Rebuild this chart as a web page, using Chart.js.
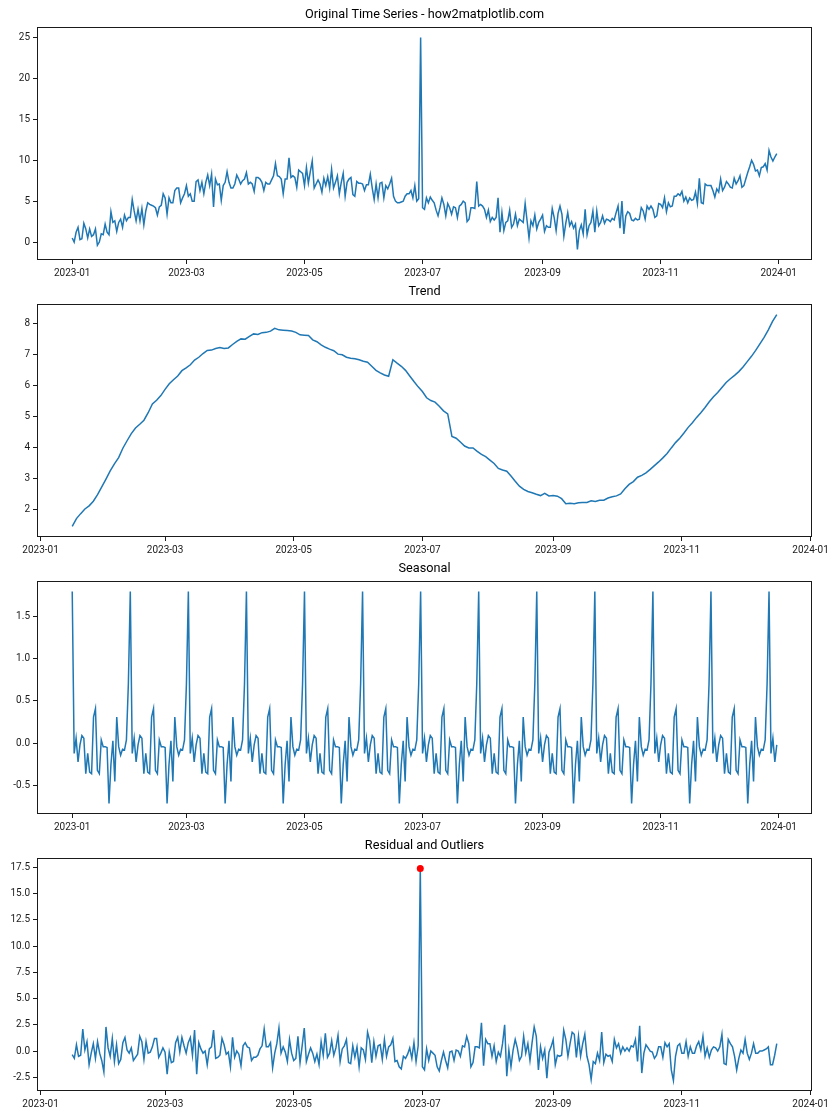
<!DOCTYPE html>
<html>

<head>
    <meta charset="utf-8">
    <script src="https://cdn.jsdelivr.net/npm/chart.js@4.4.1/dist/chart.umd.min.js"></script>
    <style>
        body {
            margin: 0;
            background: #fff;
        }

        #figure {
            width: 840px;
            height: 1120px;
        }

        canvas {
            display: block;
        }
    </style>
</head>

<body>
    <div id="figure">
        <canvas id="originalChart" width="840" height="277"></canvas>
        <canvas id="trendChart" width="840" height="277"></canvas>
        <canvas id="seasonalChart" width="840" height="277"></canvas>
        <canvas id="residualChart" width="840" height="277"></canvas>
    </div>

    <script>
        // x axis: days since 2023-01-01
        const tickDays = [0, 59, 120, 181, 243, 304, 365];
        const tickLabels = ['2023-01', '2023-03', '2023-05', '2023-07', '2023-09', '2023-11', '2024-01'];

        // daily observed values, 2023-01-01 .. 2023-12-31
        const originalValues = [
            0.5, 0.0, 1.2, 1.8, 0.3, 0.4, 2.3, 1.6, 0.5, 1.6,
            0.7, 0.9, 1.6, -0.4, 0.0, 1.0, 0.9, 2.2, 1.2, 0.9,
            3.7, 2.4, 2.6, 1.3, 2.4, 2.8, 1.8, 3.3, 2.6, 3.0,
            3.0, 5.2, 3.8, 2.6, 4.0, 2.6, 4.1, 2.1, 3.8, 4.8,
            4.6, 4.5, 4.4, 4.2, 3.3, 4.3, 4.5, 5.9, 5.4, 3.4,
            5.4, 4.8, 4.8, 6.3, 6.6, 6.6, 4.8, 5.4, 5.9, 6.9,
            5.6, 5.9, 5.0, 5.0, 7.4, 7.6, 6.3, 7.3, 5.9, 7.3,
            8.2, 6.9, 8.3, 4.3, 7.7, 7.0, 7.1, 5.1, 6.9, 7.3,
            8.6, 7.3, 6.6, 6.6, 7.1, 8.2, 7.7, 7.1, 7.5,
            7.7, 8.5, 7.1, 7.3, 7.1, 6.2, 7.9, 7.9, 7.7, 7.3,
            6.3, 7.3, 7.1, 7.1, 7.6, 8.1, 9.6, 8.1, 8.0, 7.7,
            5.9, 7.7, 7.7, 10.3, 7.9, 8.1, 7.9, 6.7, 8.8, 8.6,
            8.4, 6.9, 9.1, 7.2, 8.6, 9.9, 6.6, 7.1, 7.6, 7.1,
            6.1, 7.8, 6.9, 8.0, 6.6, 8.9, 6.6, 7.3, 8.1, 5.9,
            7.3, 8.4, 5.6, 7.3, 7.7, 7.9, 5.8, 5.6, 7.4, 7.2,
            7.2, 7.1, 6.3, 7.0, 7.0, 8.3, 6.6, 5.2, 7.1, 5.4,
            7.2, 7.3, 5.4, 6.9, 6.5, 7.1, 7.8, 5.6, 5.0, 4.8,
            4.8, 4.9, 5.0, 5.6, 5.9, 5.9, 6.3, 5.4, 6.9, 5.0,
            5.3, 25.0, 4.2, 4.0,
            5.4, 4.8, 5.5, 5.1, 4.8, 3.9, 3.2, 4.2, 5.4, 4.6,
            3.2, 4.7, 4.2, 3.4, 4.3, 4.2, 3.0, 4.4, 4.6, 5.0,
            4.8, 2.5, 2.8, 4.2, 4.2, 4.1, 7.4, 4.4, 4.6, 4.4,
            4.0, 3.0, 3.9, 2.5, 3.0, 2.7, 3.0, 5.4, 1.2, 3.6,
            1.4, 2.4, 2.6, 3.9, 1.8, 2.2, 3.4, 2.0, 2.8, 2.6,
            2.4, 4.7, 2.6, 0.5, 2.6, 2.0, 3.3, 1.6, 2.4, 2.8,
            3.3, 1.3, 2.0, 1.8, 1.8, 4.1, 3.0, 1.4, 3.5, 4.4,
            3.4, 0.7, 2.3, 3.6, 2.0, 2.5, 1.7, 2.2, -0.9, 1.4,
            2.1, 1.0, 4.0, 0.9, 2.0, 2.4, 3.8, 1.2, 3.8, 2.0,
            2.4, 3.2, 2.3, 2.8, 2.7,
            2.5, 2.9, 2.7, 3.6, 4.4, 1.7, 5.0, 1.0, 3.2, 3.7,
            3.5, 2.7, 2.6, 2.9, 2.7, 2.8, 4.2, 3.8, 2.8, 4.4,
            4.0, 4.4, 4.0, 3.0, 3.2, 4.7, 4.6, 4.2, 5.4, 3.7,
            4.8, 4.3, 4.4, 5.6, 5.6, 5.9, 5.7, 6.2, 5.0, 5.5,
            4.8, 5.4, 5.1, 5.2, 6.1, 4.7, 7.8, 4.8, 4.7, 7.1,
            6.9, 6.9, 6.9, 6.3, 5.5, 6.5, 6.1, 7.7, 6.3, 6.7,
            7.4, 7.1, 6.7, 6.6, 7.8, 7.1, 7.5, 8.1, 6.7, 6.9,
            7.7, 8.5, 9.2, 10.0, 9.5, 8.7, 8.8, 8.1, 9.1, 9.2,
            9.6, 8.8, 11.2, 10.4, 9.9, 10.4, 10.8
        ];

        // trend, read every 2 days from 2023-01-16 to 2023-12-16
        const trendStartDay = 15;
        const trendStepDays = 2;
        const trendValues = [
            1.47, 1.72, 1.88, 2.03, 2.13, 2.28, 2.49, 2.74, 2.99, 3.25,
            3.48, 3.68, 3.98, 4.22, 4.45, 4.63, 4.75, 4.88, 5.12, 5.40,
            5.52, 5.67, 5.87, 6.05, 6.18, 6.30, 6.47, 6.56, 6.66, 6.81,
            6.90, 7.02, 7.12, 7.13, 7.18, 7.21, 7.18, 7.20, 7.31, 7.41,
            7.49, 7.48, 7.57, 7.65, 7.63, 7.69, 7.70, 7.74, 7.83, 7.78,
            7.77, 7.76, 7.74, 7.70, 7.62, 7.61, 7.60, 7.46, 7.40, 7.30,
            7.22, 7.16, 7.11, 7.00, 6.98, 6.90, 6.87, 6.85, 6.82, 6.77,
            6.74, 6.61, 6.48, 6.40, 6.33, 6.29, 6.82, 6.71, 6.61, 6.48,
            6.30, 6.12, 5.95, 5.80, 5.60, 5.51, 5.46, 5.33, 5.18, 5.08,
            4.36, 4.30, 4.18, 4.05, 3.99, 3.99, 3.88, 3.78, 3.71, 3.60,
            3.49, 3.33, 3.28, 3.24, 3.09, 2.92, 2.76, 2.66, 2.59, 2.55,
            2.50, 2.46, 2.53, 2.45, 2.46, 2.44, 2.36, 2.20, 2.21, 2.20,
            2.23, 2.24, 2.24, 2.29, 2.27, 2.31, 2.31, 2.38, 2.42, 2.45,
            2.51, 2.68, 2.82, 2.91, 3.05, 3.11, 3.19, 3.30, 3.42, 3.54,
            3.67, 3.81, 3.99, 4.16, 4.30, 4.47, 4.65, 4.80, 4.97, 5.12,
            5.29, 5.47, 5.63, 5.77, 5.93, 6.09, 6.21, 6.32, 6.44, 6.59,
            6.76, 6.93, 7.12, 7.33, 7.54, 7.78, 8.05, 8.27
        ];

        // seasonal component (30-day cycle), daily
        const seasonalValues = [
            1.79, -0.12, 0.06, -0.22, -0.02, 0.09, 0.06, -0.36, -0.12, -0.34, -0.36, 0.31, 0.41, -0.32, -0.36, 0.04, -0.04, -0.04, -0.05, -0.71, -0.25, 0.03, -0.45, 0.31, -0.04, -0.14, -0.07, -0.08, 0.04, 0.70,
            1.79, -0.12, 0.06, -0.22, -0.02, 0.09, 0.06, -0.36, -0.12, -0.34, -0.36, 0.31, 0.41, -0.32, -0.36, 0.04, -0.04, -0.04, -0.05, -0.71, -0.25, 0.03, -0.45, 0.31, -0.04, -0.14, -0.07, -0.08, 0.04, 0.70,
            1.79, -0.12, 0.06, -0.22, -0.02, 0.09, 0.06, -0.36, -0.12, -0.34, -0.36, 0.31, 0.41, -0.32, -0.36, 0.04, -0.04, -0.04, -0.05, -0.71, -0.25, 0.03, -0.45, 0.31, -0.04, -0.14, -0.07, -0.08, 0.04, 0.70,
            1.79, -0.12, 0.06, -0.22, -0.02, 0.09, 0.06, -0.36, -0.12, -0.34, -0.36, 0.31, 0.41, -0.32, -0.36, 0.04, -0.04, -0.04, -0.05, -0.71, -0.25, 0.03, -0.45, 0.31, -0.04, -0.14, -0.07, -0.08, 0.04, 0.70,
            1.79, -0.12, 0.06, -0.22, -0.02, 0.09, 0.06, -0.36, -0.12, -0.34, -0.36, 0.31, 0.41, -0.32, -0.36, 0.04, -0.04, -0.04, -0.05, -0.71, -0.25, 0.03, -0.45, 0.31, -0.04, -0.14, -0.07, -0.08, 0.04, 0.70,
            1.79, -0.12, 0.06, -0.22, -0.02, 0.09, 0.06, -0.36, -0.12, -0.34, -0.36, 0.31, 0.41, -0.32, -0.36, 0.04, -0.04, -0.04, -0.05, -0.71, -0.25, 0.03, -0.45, 0.31, -0.04, -0.14, -0.07, -0.08, 0.04, 0.70,
            1.79, -0.12, 0.06, -0.22, -0.02, 0.09, 0.06, -0.36, -0.12, -0.34, -0.36, 0.31, 0.41, -0.32, -0.36, 0.04, -0.04, -0.04, -0.05, -0.71, -0.25, 0.03, -0.45, 0.31, -0.04, -0.14, -0.07, -0.08, 0.04, 0.70,
            1.79, -0.12, 0.06, -0.22, -0.02, 0.09, 0.06, -0.36, -0.12, -0.34, -0.36, 0.31, 0.41, -0.32, -0.36, 0.04, -0.04, -0.04, -0.05, -0.71, -0.25, 0.03, -0.45, 0.31, -0.04, -0.14, -0.07, -0.08, 0.04, 0.70,
            1.79, -0.12, 0.06, -0.22, -0.02, 0.09, 0.06, -0.36, -0.12, -0.34, -0.36, 0.31, 0.41, -0.32, -0.36, 0.04, -0.04, -0.04, -0.05, -0.71, -0.25, 0.03, -0.45, 0.31, -0.04, -0.14, -0.07, -0.08, 0.04, 0.70,
            1.79, -0.12, 0.06, -0.22, -0.02, 0.09, 0.06, -0.36, -0.12, -0.34, -0.36, 0.31, 0.41, -0.32, -0.36, 0.04, -0.04, -0.04, -0.05, -0.71, -0.25, 0.03, -0.45, 0.31, -0.04, -0.14, -0.07, -0.08, 0.04, 0.70,
            1.79, -0.12, 0.06, -0.22, -0.02, 0.09, 0.06, -0.36, -0.12, -0.34, -0.36, 0.31, 0.41, -0.32, -0.36, 0.04, -0.04, -0.04, -0.05, -0.71, -0.25, 0.03, -0.45, 0.31, -0.04, -0.14, -0.07, -0.08, 0.04, 0.70,
            1.79, -0.12, 0.06, -0.22, -0.02, 0.09, 0.06, -0.36, -0.12, -0.34, -0.36, 0.31, 0.41, -0.32, -0.36, 0.04, -0.04, -0.04, -0.05, -0.71, -0.25, 0.03, -0.45, 0.31, -0.04, -0.14, -0.07, -0.08, 0.04, 0.70,
            1.79, -0.12, 0.06, -0.22, -0.02
        ];

        // residual, daily from 2023-01-16 to 2023-12-16
        const residualStartDay = 15;
        const residualValues = [
            -0.35, -0.7, 0.6, -0.5, -0.4, 2.1, 0.1, 0.9, -1.3, -0.2,
            0.7, -0.7, 0.9, -0.2, -0.9, -2.0, 2.3, 0.3, -0.5, 1.2,
            -1.0, 0.6, -1.2, -0.8, 0.8, 1.3, 0.1, -0.2, 0.3, -0.9,
            -0.6, -0.3, 1.4, 0.9, -0.8, 0.9, -0.2, -0.1, 0.4, 1.2,
            1.2, -0.6, -0.2, 0.3, -0.1, -2.2, -0.1, -1.1, -1.0, 0.8,
            1.3, -0.1, 1.3, 0.5, -0.2, 0.8, 1.3, -0.4, 2.0, -2.2,
            0.8, 0.2, -0.2, 0.0, -1.3, 0.2, 0.4, 2.0, -0.7, -0.6,
            -0.4, 1.2, 0.6, -0.3, -0.1, -1.5, 1.3, -0.6, 0.0, -0.3,
            -1.4, 0.5, 0.8, 0.4, 0.3, -0.9, -0.6, -0.6, -0.4, 0.2,
            0.5, 2.1, 0.4, 0.4, 0.8, -1.6, -0.2, 0.7, 2.2, -0.2,
            0.4, -0.1, -1.0, 1.1, -0.2, -0.9, -0.7, 1.4, -1.1, 0.5,
            2.2, -1.0, -0.3, 0.3, -0.2, -1.0, -0.3, -1.3, 0.9, -0.4,
            1.7, -0.6, -0.2, 1.0, -0.4, 0.3, 1.5, -1.0, 0.2, 0.5,
            1.1, -1.1, -1.2, 0.5, -0.6, 0.4, -1.5, 0.3, 0.1, -0.8,
            1.8, 1.0, -1.1, 0.9, -0.5, 0.5, 0.6, -0.8, 1.1, -0.5,
            0.4, 0.6, 1.2, -1.0, -0.9, -1.5, -1.7, -0.5, -0.7, -0.3,
            0.3, -0.7, 0.8, -1.0, 0.5,
            17.4,
            -1.5, -1.8, 0.2, -0.9, 0.0, -0.2, -0.4, -1.5, -1.9, -0.9,
            -0.1, -0.9, -1.6, -0.1, 0.0, -0.9, 0.1, 0.0, -0.5, 0.5,
            0.4, 1.4, 0.7, -1.5, -1.1, 0.4, 0.4, 0.3, 2.7, -1.4,
            1.1, 0.7, 0.7, -0.5, 0.5, -1.0, -0.1, -0.5, 0.7, 2.5,
            -2.4, 0.1, -1.5, 0.1, 1.1, 0.3, -0.9, -0.5, 1.4, -0.2,
            0.7, -0.9, 0.8, 2.3, 1.4, -1.8, 0.4, -0.7, 0.1, -2.6,
            -0.1, 0.4, 1.1, -1.3, -0.4, -0.5, -0.4, 2.0, 1.1, -0.5,
            0.7, 1.8, 1.6, -0.6, 1.4, -0.5, 0.7, 1.6, -0.5, -1.3,
            -2.7, -1.0, -1.2, -0.2, -0.9, 1.8, -1.1, -0.3, -0.5, -0.4,
            -1.0, 1.1, 0.3, 0.7, -0.2, 0.4, 0.0, 0.3, 0.0, 0.5,
            0.4, 1.1, -1.0, 2.4, -2.1, -0.2, 0.6, 0.3, 0.0, -0.1,
            -0.7, -0.4, 0.4, 0.4, -0.6, 0.8, 0.4, 0.7, -1.8, -2.8,
            -0.5, 0.5, 0.7, -0.2, -0.2, 0.9, -0.5, 0.4, -0.2, -0.2,
            0.5, 0.9, 0.1, 1.4, -0.5, 0.3, -0.6, 0.1, 0.4, 0.3,
            0.0, 0.4, 1.6, -1.2, -1.3, 1.1, 0.7, 0.4, -0.5, -1.8,
            -0.7, 0.1, -0.2, 1.1, -0.2, -0.8, -0.2, 0.7, -0.2, -0.2,
            0.0, 0.0, 0.1, 0.2, 0.4, -1.3, -1.3, -0.4, 0.7
        ];

        const outlierDays = [180];
        const outlierValues = [17.4];

        const originalTicks = [0, 5, 10, 15, 20, 25];
        const trendTicks = [2, 3, 4, 5, 6, 7, 8];
        const seasonalTicks = [-0.5, 0, 0.5, 1, 1.5];
        const residualTicks = [-2.5, 0, 2.5, 5, 7.5, 10, 12.5, 15, 17.5];

        const lineColor = '#1f77b4';
        const inkColor = '#1a1a1a';

        Chart.defaults.font.family = 'Roboto, "Noto Sans", sans-serif';
        Chart.defaults.color = inkColor;

        function toPoints(values, startDay, stepDays) {
            return values.map((v, i) => ({ x: startDay + i * stepDays, y: v }));
        }

        // same 5% margins matplotlib puts round the data
        function paddedRange(lo, hi) {
            const m = (hi - lo) * 0.05;
            return [lo - m, hi + m];
        }

        // box round the plot area, like matplotlib spines
        const framePlugin = {
            id: 'frame',
            afterDraw(chart) {
                const a = chart.chartArea;
                const c = chart.ctx;
                c.save();
                c.strokeStyle = inkColor;
                c.lineWidth = 1;
                c.strokeRect(Math.round(a.left) + 0.5, Math.round(a.top) + 0.5,
                    Math.round(a.right - a.left) - 1, Math.round(a.bottom - a.top) - 1);
                c.restore();
            }
        };

        function makePanel(canvasId, title, datasets, xRange, yRange, yTicks, yDecimals) {
            return new Chart(document.getElementById(canvasId), {
                type: 'line',
                data: { datasets: datasets },
                options: {
                    responsive: false,
                    animation: false,
                    devicePixelRatio: 1,
                    events: [],
                    layout: { padding: { left: 0, right: 28, top: 0, bottom: 0 } },
                    plugins: {
                        legend: { display: false },
                        tooltip: { enabled: false },
                        title: {
                            display: true,
                            fullSize: false, // centre over the plot area, not the canvas
                            text: title,
                            color: '#000',
                            font: { size: 12.7, weight: 'normal', lineHeight: 1.2 },
                            padding: { top: 7.6, bottom: 4.16 }
                        }
                    },
                    scales: {
                        x: {
                            type: 'linear',
                            min: xRange[0],
                            max: xRange[1],
                            afterBuildTicks: (scale) => {
                                scale.ticks = tickDays.map(v => ({ value: v }));
                            },
                            afterFit: (scale) => { scale.height = 17; },
                            ticks: {
                                autoSkip: false,
                                maxRotation: 0,
                                padding: 3,
                                font: { size: 10 },
                                callback: (value) => tickLabels[tickDays.indexOf(value)]
                            },
                            grid: { drawOnChartArea: false, tickLength: 4, color: inkColor },
                            border: { display: false }
                        },
                        y: {
                            type: 'linear',
                            min: yRange[0],
                            max: yRange[1],
                            afterBuildTicks: (scale) => {
                                scale.ticks = yTicks.map(v => ({ value: v }));
                            },
                            afterFit: (scale) => { scale.width = 37; },
                            ticks: {
                                autoSkip: false,
                                padding: 3,
                                font: { size: 10 },
                                callback: (value) => value.toFixed(yDecimals)
                            },
                            grid: { drawOnChartArea: false, tickLength: 4, color: inkColor },
                            border: { display: false }
                        }
                    }
                },
                plugins: [framePlugin]
            });
        }

        function seriesLine(points) {
            return {
                data: points,
                borderColor: lineColor,
                borderWidth: 1.5,
                pointRadius: 0,
                tension: 0,
                order: 1
            };
        }

        const fullYear = paddedRange(0, 364);
        const innerYear = paddedRange(trendStartDay, trendStartDay + (trendValues.length - 1) * trendStepDays);

        makePanel('originalChart', 'Original Time Series - how2matplotlib.com',
            [seriesLine(toPoints(originalValues, 0, 1))],
            fullYear,
            paddedRange(Math.min(...originalValues), Math.max(...originalValues)),
            originalTicks, 0);

        makePanel('trendChart', 'Trend',
            [seriesLine(toPoints(trendValues, trendStartDay, trendStepDays))],
            innerYear,
            paddedRange(Math.min(...trendValues), Math.max(...trendValues)),
            trendTicks, 0);

        makePanel('seasonalChart', 'Seasonal',
            [seriesLine(toPoints(seasonalValues, 0, 1))],
            fullYear,
            paddedRange(Math.min(...seasonalValues), Math.max(...seasonalValues)),
            seasonalTicks, 1);

        makePanel('residualChart', 'Residual and Outliers',
            [
                seriesLine(toPoints(residualValues, residualStartDay, 1)),
                {
                    data: outlierDays.map((d, i) => ({ x: d, y: outlierValues[i] })),
                    showLine: false,
                    pointRadius: 3.5,
                    pointBorderWidth: 0,
                    pointBackgroundColor: '#ff0000',
                    borderColor: '#ff0000',
                    order: 0
                }
            ],
            innerYear,
            paddedRange(Math.min(...residualValues, ...outlierValues), Math.max(...residualValues, ...outlierValues)),
            residualTicks, 1);
    </script>
</body>

</html>
